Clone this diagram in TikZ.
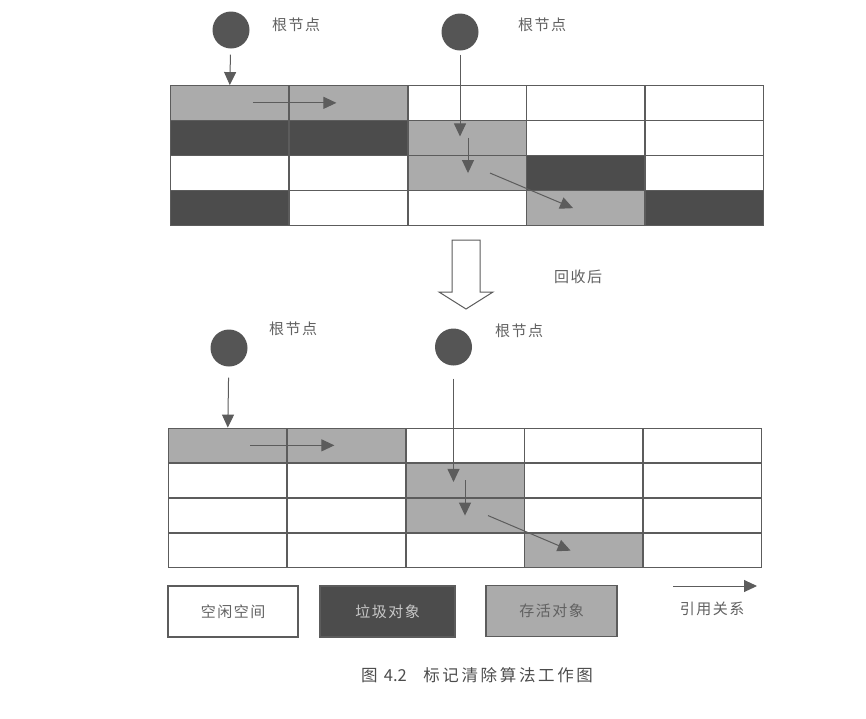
\documentclass[tikz,border=0pt]{standalone}
\usepackage{fontspec}
\usepackage{tikz}
\usetikzlibrary{matrix,arrows.meta}
\newfontfamily\cjk[LetterSpace=10]{Noto Sans CJK SC}
\newfontfamily\capfont[LetterSpace=16]{Noto Sans CJK SC}

\definecolor{live}{gray}{0.67}
\definecolor{junk}{gray}{0.30}
\definecolor{rim}{gray}{0.36}

\tikzset{
  heap/.style={matrix of nodes, nodes in empty cells,
    row sep=-\pgflinewidth, column sep=-\pgflinewidth,
    nodes={draw=rim, line width=1pt, minimum width=118pt,
      minimum height=34.5pt, anchor=center}},
  alive/.style={fill=live},
  dead/.style={fill=junk},
  root/.style={circle, fill=junk!95, minimum size=37pt, inner sep=0pt},
  ref/.style={-{Triangle[length=13pt,width=12pt]}, color=rim,
    line width=1pt},
  legend/.style={draw=rim, line width=1.2pt, minimum height=51pt,
    font=\cjk\fontsize{15}{17}\selectfont, text=black!62},
  lbl/.style={font=\cjk\fontsize{15}{17}\selectfont, text=black!62}
}

\begin{document}
\begin{tikzpicture}[x=1pt,y=-1pt]
  \useasboundingbox (0,0) rectangle (866,718);
  % before collection
  \matrix (top) [heap] at (467,155.5) {
    |[alive]| & |[alive]| & & & \\
    |[dead]|  & |[dead]|  & |[alive]| & & \\
              &           & |[alive]| & |[dead]| & \\
    |[dead]|  &           & & |[alive]| & |[dead]| \\};
  \node (ra) [root] at (231,30) {};
  \node (rb) [root] at (460,32) {};
  \node (la) [lbl] at (296,25) {根节点};
  \node (lb) [lbl] at (542,25) {根节点};
  \path[ref]
    (ra) edge [shorten <=6pt] (top-1-1.north)
    ([xshift=23pt]top-1-1.center) edge ([xshift=-12pt]top-1-2.center)
    (rb) edge [shorten <=4pt] ([xshift=-7pt,yshift=1.5pt]top-2-3.center)
    ([xshift=1pt]top-2-3.center) edge ([xshift=1pt]top-3-3.center)
    ([xshift=23pt]top-3-3.center) edge ([xshift=-12.5pt]top-4-4.center);

  % hollow arrow
  \draw[rim, line width=1pt, fill=white]
    (452,240) -- (480,240) -- (480,292) -- (493,292) -- (466,309)
    -- (439,292) -- (452,292) -- cycle;
  \node (after) [lbl] at (578,277) {回收后};

  % after collection
  \matrix (bot) [heap] at (465,498) {
    |[alive]| & |[alive]| & & & \\
              &           & |[alive]| & & \\
              &           & |[alive]| & & \\
              &           & & |[alive]| & \\};
  \node (rc) [root] at (229,348) {};
  \node (rd) [root] at (453.5,347) {};
  \node (lc) [lbl] at (293,329) {根节点};
  \node (ld) [lbl] at (519,331) {根节点};
  \path[ref]
    (rc) edge [shorten <=11pt] (bot-1-1.north)
    ([xshift=22.5pt]bot-1-1.center) edge ([xshift=-12pt]bot-1-2.center)
    (rd) edge [shorten <=13pt] ([xshift=-11.5pt,yshift=-1.5pt]bot-2-3.center)
    (bot-2-3.center) edge (bot-3-3.center)
    ([xshift=23pt]bot-3-3.center) edge ([xshift=-13pt]bot-4-4.center);

  % legend
  \node (free) [legend, minimum width=130pt] at (233,611.5) {空闲空间};
  \node (trash) [legend, fill=junk, text=white!78!black, minimum width=135pt] at (387.5,611.5) {垃圾对象};
  \node (kept) [legend, fill=live, minimum width=131pt] at (551.5,611) {存活对象};
  \coordinate (refa) at (673,586);
  \coordinate (refb) at (757,586);
  \draw[ref] (refa) -- (refb);
  \node (reflbl) [lbl] at (712,609) {引用关系};

  \node (cap) [font=\capfont\fontsize{16.5}{18}\selectfont, text=black!70] at (477,675)
    {图 {\fontspec{Noto Sans CJK SC}4.2}\quad 标记清除算法工作图};
\end{tikzpicture}
\end{document}
